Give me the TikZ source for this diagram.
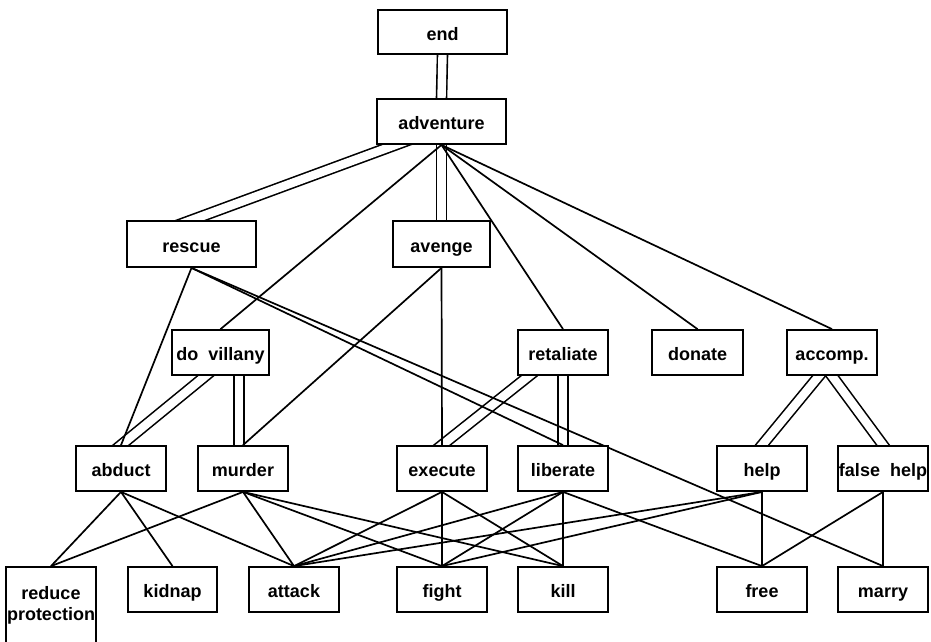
\documentclass[tikz,border=0pt]{standalone}
\usepackage{fontspec}
\setmainfont{Liberation Sans}
\usetikzlibrary{backgrounds}

\begin{document}
\begin{tikzpicture}[
    x=1pt, y=-1pt,
    every node/.style={font=\fontsize{18}{21}\selectfont\bfseries},
    box/.style={
        rectangle, draw, fill=white, line width=1.8pt,
        align=center, inner xsep=1pt,
        minimum height=45pt,
        minimum width=90pt
    },
    block/.style={box, text height=20pt, text depth=4pt},
    link/.style={line width=1.7pt},
    dbl/.style={line width=1.6pt, double, double distance=8.4pt,
        shorten <=-20pt, shorten >=-20pt}
]
\useasboundingbox (0,0) rectangle (931,641);

% --- Top ---
\node[block, minimum width=129pt, minimum height=44pt] (end) at (442.5,32) {end};
\node[block, minimum width=129pt] (adv) at (441.5,121.5) {adventure};

% --- Second row ---
\node[block, minimum width=129pt, minimum height=46pt] (rescue) at (191.5,244) {rescue};
\node[block, minimum width=97pt, minimum height=46pt] (avenge) at (441.5,244) {avenge};

% --- Third row ---
\node[block, minimum width=97pt] (villany) at (220.5,352.5) {do\ \ villany};
\node[block] (retal) at (563,352.5) {retaliate};
\node[block, minimum width=91pt] (donate) at (697.5,352.5) {donate};
\node[block] (accomp) at (832,352.5) {accomp.};

% --- Fourth row ---
\node[block] (abduct) at (121,468.5) {abduct};
\node[block] (murder) at (243,468.5) {murder};
\node[block] (execute) at (442,468.5) {execute};
\node[block] (liberate) at (563,468.5) {liberate};
\node[block] (help) at (762,468.5) {help};
\node[block] (fhelp) at (883,468.5) {false\ \ help};

% --- Bottom row ---
\node[box, minimum height=76pt] (reduce) at (51,605) {reduce\\protection};
\node[block, minimum width=89pt] (kidnap) at (172.5,589.5) {kidnap};
\node[block] (attack) at (294,589.5) {attack};
\node[block] (fight) at (442,589.5) {fight};
\node[block] (kill) at (563,589.5) {kill};
\node[block] (free) at (762,589.5) {free};
\node[block] (marry) at (883,589.5) {marry};

\coordinate (vm) at ([xshift=-4pt]murder.north);

\begin{scope}[on background layer]
% --- Double links ---
\draw[dbl] (end.south) -- (adv.north);
\draw[dbl] ([xshift=-46pt]adv.south) -- (rescue.north);
\draw[dbl] (adv.south) -- (avenge.north);
\draw[dbl] ([xshift=-15pt]villany.south) -- (abduct.north);
\draw[dbl] (vm |- villany.south) -- (vm);
\draw[dbl] ([xshift=-34pt]retal.south) -- (execute.north);
\draw[dbl] (retal.south) -- (liberate.north);
\draw[dbl] ([xshift=-13pt]accomp.south) -- (help.north);
\draw[dbl] (accomp.south) -- (fhelp.north);

% --- Single links ---
\draw[link] (adv.south) -- (villany.north);
\draw[link] (adv.south) -- (retal.north);
\draw[link] (adv.south) -- (donate.north);
\draw[link] (adv.south) -- (accomp.north);
\draw[link] (rescue.south) -- (abduct.north);
\draw[link] (rescue.south) -- (liberate.north);
\draw[link] (rescue.south) -- (marry.north);
\draw[link] (avenge.south) -- (murder.north);
\draw[link] (avenge.south) -- (execute.north);
\draw[link] (abduct.south) -- (reduce.north);
\draw[link] (abduct.south) -- (kidnap.north);
\draw[link] (abduct.south) -- (attack.north);
\draw[link] (murder.south) -- (reduce.north);
\draw[link] (murder.south) -- (attack.north);
\draw[link] (murder.south) -- (fight.north);
\draw[link] (murder.south) -- (kill.north);
\draw[link] (execute.south) -- (attack.north);
\draw[link] (execute.south) -- (fight.north);
\draw[link] (execute.south) -- (kill.north);
\draw[link] (liberate.south) -- (attack.north);
\draw[link] (liberate.south) -- (fight.north);
\draw[link] (liberate.south) -- (kill.north);
\draw[link] (liberate.south) -- (free.north);
\draw[link] (help.south) -- (attack.north);
\draw[link] (help.south) -- (fight.north);
\draw[link] (help.south) -- (free.north);
\draw[link] (fhelp.south) -- (free.north);
\draw[link] (fhelp.south) -- (marry.north);
\end{scope}

\end{tikzpicture}
\end{document}
